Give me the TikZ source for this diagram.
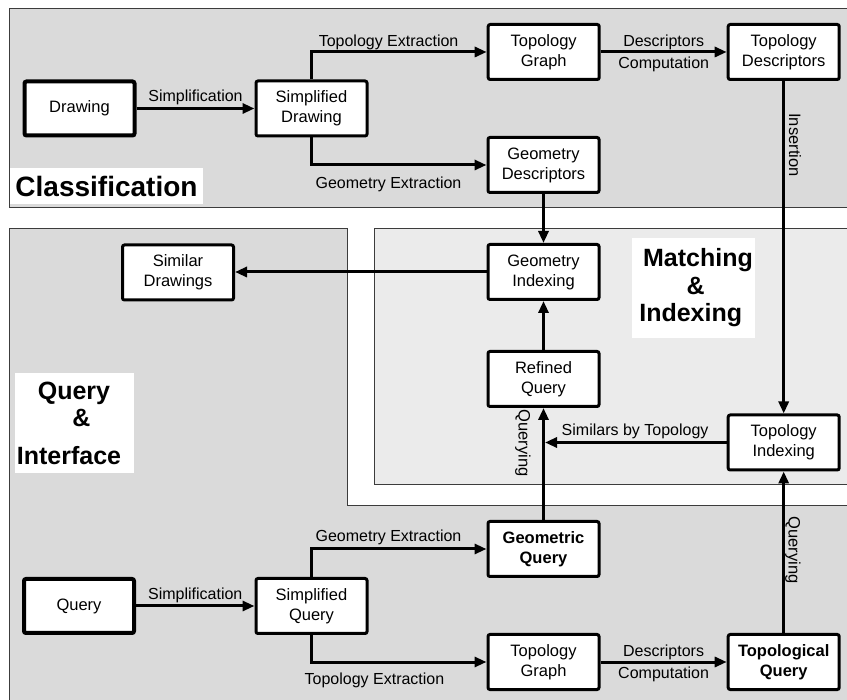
\documentclass[tikz,border=0pt]{standalone}
\usepackage{fontspec}
\setmainfont{Liberation Sans}
\usetikzlibrary{arrows.meta,calc}
\definecolor{panelgray}{RGB}{218,218,218}
\definecolor{panellight}{RGB}{235,235,235}
\definecolor{paneledge}{RGB}{60,60,60}
\begin{document}
\begin{tikzpicture}[x=1pt,y=-1pt,
  box/.style={draw, line width=3pt, rounded corners=2pt, fill=white,
    minimum width=111pt, minimum height=55pt, inner sep=2pt, align=center,
    font=\fontsize{16.5}{20}\selectfont},
  thickbox/.style={box, line width=4pt, minimum width=110pt, minimum height=54pt},
  boldbox/.style={box, font=\fontsize{16.5}{20}\selectfont\bfseries},
  arr/.style={line width=3pt, -{Triangle[length=12pt,width=10pt]}},
  lbl/.style={font=\fontsize{16}{22}\selectfont, inner sep=1pt, align=center},
  rlbl/.style={font=\fontsize{16.5}{20}\selectfont, inner sep=0pt, rotate=-90, anchor=base},
  panel/.style={draw=paneledge, line width=1pt},
  titlebox/.style={fill=white, inner sep=0pt},
  title/.style={font=\fontsize{25}{30}\selectfont\bfseries, inner sep=0pt, anchor=base},
]
\useasboundingbox (0,0) rectangle (847,700);
\clip (0,0) rectangle (847,700);

% panels
\path[panel, fill=panelgray] (9,9) rectangle (860,208);
\path[panel, fill=panelgray] (9,229) -- (347,229) -- (347,506) -- (860,506) -- (860,720) -- (9,720) -- cycle;
\path[panel, fill=panellight] (374,229) rectangle (860,485);

% titles
\node[titlebox, minimum width=193pt, minimum height=36pt] (clsbox) at (106.5,186) {};
\node[title, font=\fontsize{28}{32}\selectfont\bfseries] (cls) at (106.5,197) {Classification};
\node[titlebox, minimum width=119pt, minimum height=100pt] (qibox) at (74.5,423) {};
\node[title] (qi1) at (74,400) {Query};
\node[title] (qi2) at (81.5,426.7) {\&};
\node[title] (qi3) at (69,465) {Interface};
\node[titlebox, minimum width=123pt, minimum height=100pt] (mibox) at (693.5,288) {};
\node[title] (mi1) at (698,266.7) {Matching};
\node[title] (mi2) at (695.7,295) {\&};
\node[title] (mi3) at (690.7,321.7) {Indexing};

% boxes
\node[thickbox] (draw) at (79.5,108.5) {Drawing};
\node[box] (sdraw) at (311.5,108.5) {Simplified\\Drawing};
\node[box] (tgraph) at (543.7,52) {Topology\\Graph};
\node[box] (tdesc) at (783.7,52) {Topology\\Descriptors};
\node[box] (gdesc) at (543.5,165) {Geometry\\Descriptors};
\node[box] (simdraw) at (178,272.5) {Similar\\Drawings};
\node[box] (gidx) at (543.5,272) {Geometry\\Indexing};
\node[box] (rquery) at (543.5,379) {Refined\\Query};
\node[box] (tidx) at (783.7,442.5) {Topology\\Indexing};
\node[thickbox] (query) at (79,606) {Query};
\node[box] (squery) at (311.5,606) {Simplified\\Query};
\node[boldbox] (gquery) at (543.5,549) {Geometric\\Query};
\node[box] (tgraph2) at (543.5,662) {Topology\\Graph};
\node[boldbox] (tquery) at (783.7,662) {Topological\\Query};

% connectors: classification
\draw[arr] (draw) -- (sdraw) node[lbl, midway, above=1pt] (l1) {Simplification};
\draw[arr] (sdraw.north) |- (tgraph.west) node[lbl, pos=0.72, above] (l2) {Topology Extraction};
\draw[arr] (sdraw.south) |- (gdesc.west) node[lbl, pos=0.72, below=9pt] (l3) {Geometry Extraction};
\draw[arr] (tgraph) -- (tdesc) node[lbl, midway, yshift=-1pt] (l4) {Descriptors\\Computation};
\draw[arr] (tdesc) -- (tidx);
\node[rlbl] (l5) at (789,145) {Insertion};

% matching & indexing
\draw[arr] (gdesc) -- (gidx);
\draw[arr] (gidx.west) -- (gidx.west -| simdraw.east);
\draw[arr] (rquery) -- (gidx);
\draw[arr] (gquery) -- (rquery);
\node[rlbl] (l6) at (518.5,443) {Querying};
\draw[arr, shorten >=1.5pt] (tidx.west) -- (tidx.west -| rquery.south) node[lbl, midway, above=1pt] (l7) {Similars by Topology};

% query & interface
\draw[arr] (query) -- (squery) node[lbl, midway, above=1pt] (l8) {Simplification};
\draw[arr] (squery.north) |- (gquery.west) node[lbl, pos=0.72, above=2pt] (l9) {Geometry Extraction};
\draw[arr] (squery.south) |- (tgraph2.west) node[lbl, pos=0.68, below=8pt] (l10) {Topology Extraction};
\draw[arr] (tgraph2) -- (tquery) node[lbl, midway, yshift=-1pt] (l11) {Descriptors\\Computation};
\draw[arr] (tquery) -- (tidx);
\node[rlbl] (l12) at (788.5,550) {Querying};
\end{tikzpicture}
\end{document}
